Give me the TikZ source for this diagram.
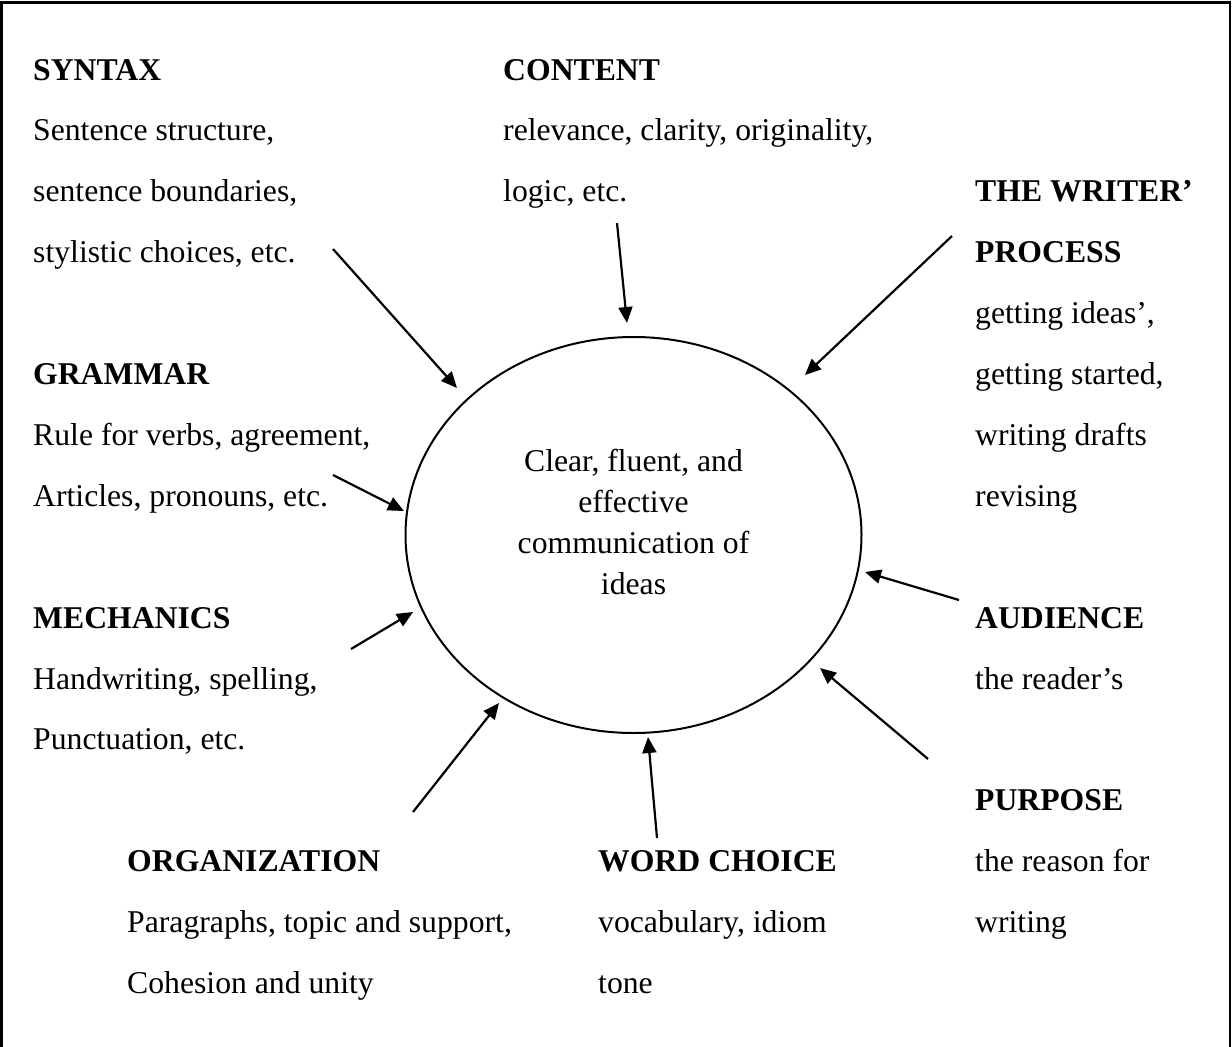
\documentclass[tikz,border=0pt]{standalone}
\usepackage{fontspec}
\setmainfont{Liberation Serif}
\usetikzlibrary{shapes.geometric,arrows.meta}
\begin{document}
\begin{tikzpicture}[x=1pt,y=-1pt,
  txt/.style={anchor=base west,inner sep=0pt,align=left,
    font=\fontsize{31.7pt}{60.9pt}\selectfont},
  ctxt/.style={anchor=base,inner sep=0pt,align=center,
    font=\fontsize{31.7pt}{41pt}\selectfont},
  feed/.style={line width=2.2pt,-{Triangle[length=16pt,width=14pt]}},
  hub/.style={draw,ellipse,line width=2pt,minimum width=456pt,minimum height=396pt,inner sep=0pt}]
\useasboundingbox (0,0) rectangle (1232,1047);
% open frame (no bottom rule)
\draw[line width=2.5pt] (1.5,1047) -- (1.5,2.5) -- (1230,2.5) -- (1230,1047);

% central idea (multi-line nodes are placed by the baseline of their last line)
\node[hub] (c) at (633.5,535) {};
\node[ctxt] (ct) at (633.5,594) {Clear, fluent, and\\effective\\communication of\\ideas};

% surrounding categories (baselines on a 60.9 grid starting at 80)
\node[txt] (syn) at (33,262.7) {\textbf{SYNTAX}\\Sentence structure,\\sentence boundaries,\\stylistic choices, etc.};
\node[txt] (gra) at (33,506.3) {\textbf{GRAMMAR}\\Rule for verbs, agreement,\\Articles, pronouns, etc.};
\node[txt] (mec) at (33,749.9) {\textbf{MECHANICS}\\Handwriting, spelling,\\Punctuation, etc.};
\node[txt] (org) at (127,993.5) {\textbf{ORGANIZATION}\\Paragraphs, topic and support,\\Cohesion and unity};
\node[txt] (con) at (503,201.8) {\textbf{CONTENT}\\relevance, clarity, originality,\\logic, etc.};
\node[txt] (wch) at (598,993.5) {\textbf{WORD CHOICE}\\vocabulary, idiom\\tone};
\node[txt] (wri) at (975,506.3) {\textbf{THE WRITER’}\\\textbf{PROCESS}\\getting ideas’,\\getting started,\\writing drafts\\revising};
\node[txt] (aud) at (975,689) {\textbf{AUDIENCE}\\the reader’s};
\node[txt] (pur) at (975,932.6) {\textbf{PURPOSE}\\the reason for\\writing};

% arrow ends
\coordinate (s1) at (333,249);  \coordinate (t1) at (457,388);
\coordinate (s2) at (617,223);  \coordinate (t2) at (627,323);
\coordinate (s3) at (952,236);  \coordinate (t3) at (805,375);
\coordinate (s4) at (333,475);  \coordinate (t4) at (404,511);
\coordinate (s5) at (351,649);  \coordinate (t5) at (413,612);
\coordinate (s6) at (413,812);  \coordinate (t6) at (499,703);
\coordinate (s7) at (657,838);  \coordinate (t7) at (648,737);
\coordinate (s8) at (959,600);  \coordinate (t8) at (865,572);
\coordinate (s9) at (928,759);  \coordinate (t9) at (820,668);

\foreach \i in {1,...,9} \draw[feed] (s\i) -- (t\i);
\end{tikzpicture}
\end{document}
